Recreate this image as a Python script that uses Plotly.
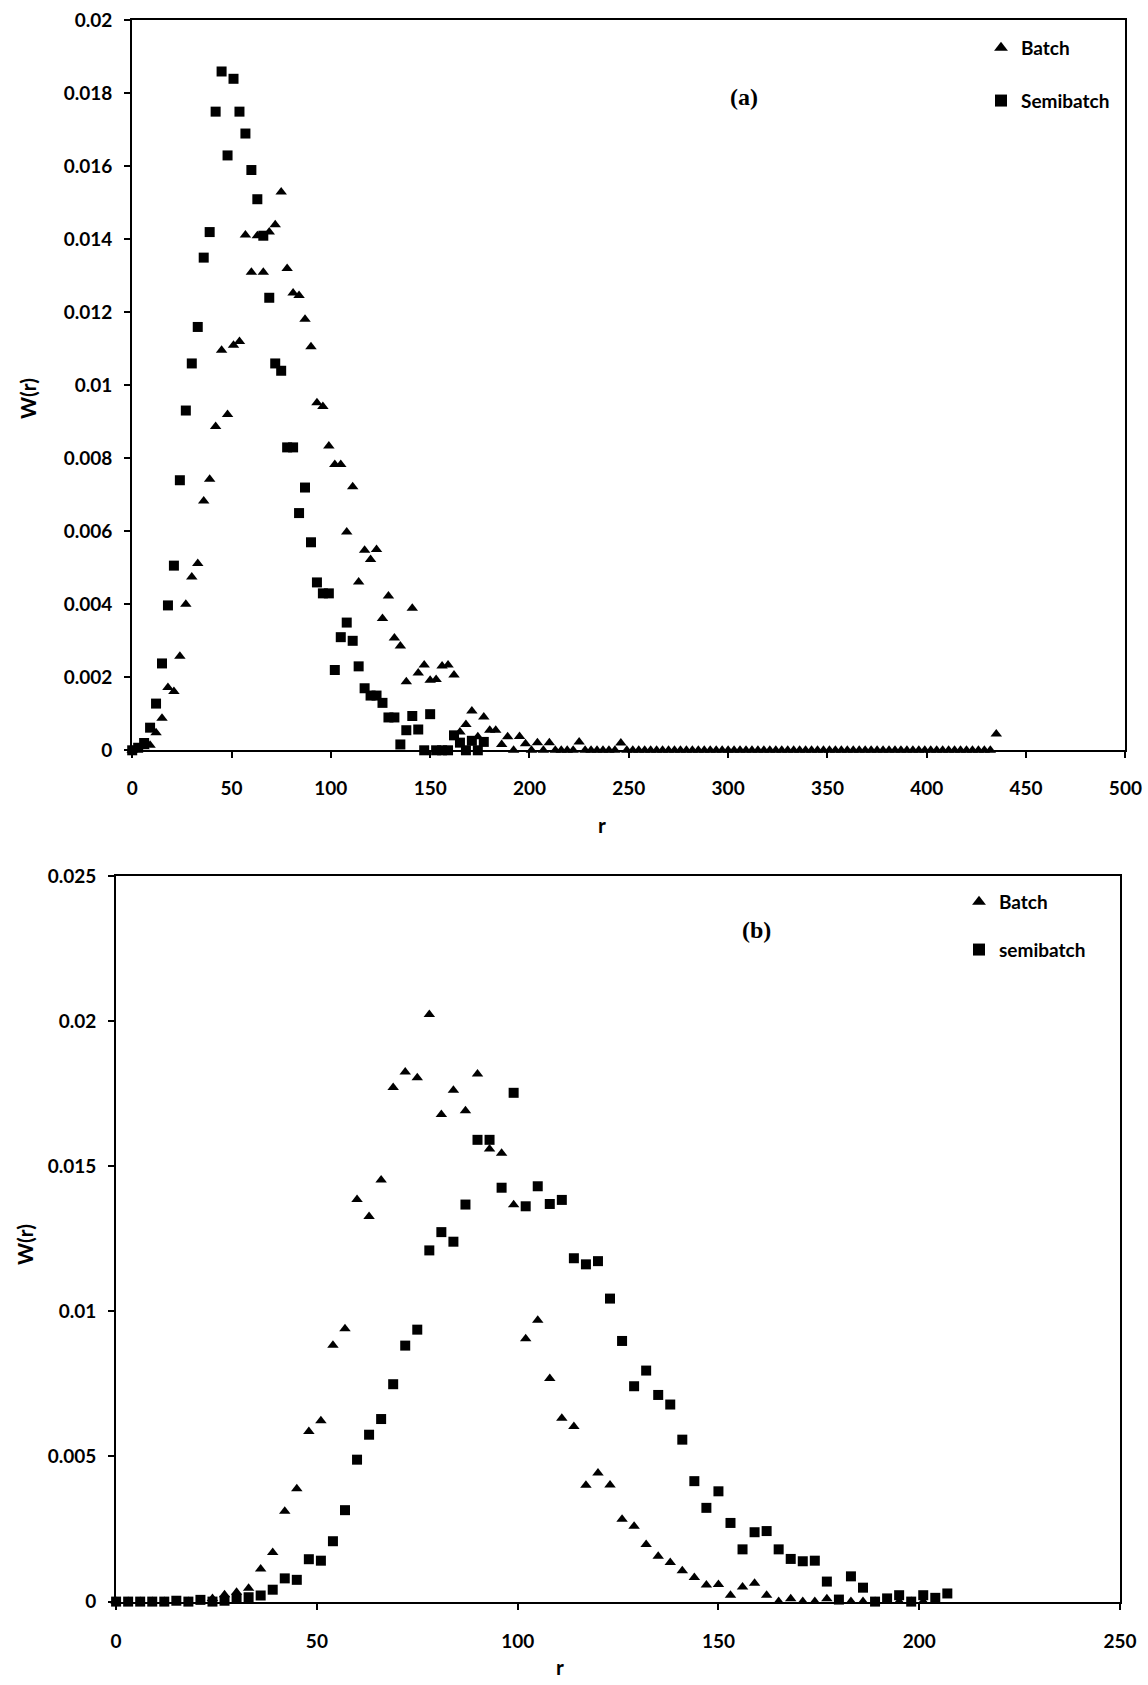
import plotly.graph_objects as go

# ---------------- panel (a) ----------------
r_batch_a = [
    0, 3, 6, 9, 12, 15, 18, 21, 24, 27, 30, 33, 36, 39, 42, 45, 48, 51, 54, 57,
    60, 63, 66, 69, 72, 75, 78, 81, 84, 87, 90, 93, 96, 99, 102, 105, 108, 111, 114, 117,
    120, 123, 126, 129, 132, 135, 138, 141, 144, 147, 150, 153, 156, 159, 162, 165, 168, 171, 174, 177,
    180, 183, 186, 189, 192, 195, 198, 201, 204, 207, 210, 213, 216, 219, 222, 225, 228, 231, 234, 237,
    240, 243, 246, 249, 252, 255, 258, 261, 264, 267, 270, 273, 276, 279, 282, 285, 288, 291, 294, 297,
    300, 303, 306, 309, 312, 315, 318, 321, 324, 327, 330, 333, 336, 339, 342, 345, 348, 351, 354, 357,
    360, 363, 366, 369, 372, 375, 378, 381, 384, 387, 390, 393, 396, 399, 402, 405, 408, 411, 414, 417,
    420, 423, 426, 429, 432, 435,
]
w_batch_a = [
    0.0, 0.00005, 0.0001, 0.00014, 0.00048, 0.00088, 0.00172, 0.00161, 0.00258, 0.0040,
    0.00475, 0.00512, 0.00683, 0.00743, 0.00887, 0.01096, 0.0092, 0.0111, 0.0112, 0.01412,
    0.0131, 0.0141, 0.0131, 0.0142, 0.0144, 0.0153, 0.0132, 0.01253, 0.01246, 0.01181,
    0.01106, 0.00952, 0.00942, 0.00834, 0.00783, 0.00783, 0.00598, 0.00722, 0.00461, 0.00548,
    0.00523, 0.0055, 0.00361, 0.00423, 0.00308, 0.00286, 0.00188, 0.00389, 0.00212, 0.00234,
    0.00192, 0.00194, 0.00231, 0.00234, 0.00206, 0.0005, 0.00071, 0.00108, 0.00037, 0.00091,
    0.00055, 0.00055, 0.00016, 0.00037, 0.0, 0.00038, 0.00018, 0.0, 0.00021, 0.0,
    0.00021, 0.0, 0.0, 0.0, 0.0, 0.00023, 0.0, 0.0, 0.0, 0.0,
    0.0, 0.0, 0.0002, 0.0, 0.0, 0.0, 0.0, 0.0, 0.0, 0.0,
    0.0, 0.0, 0.0, 0.0, 0.0, 0.0, 0.0, 0.0, 0.0, 0.0,
    0.0, 0.0, 0.0, 0.0, 0.0, 0.0, 0.0, 0.0, 0.0, 0.0,
    0.0, 0.0, 0.0, 0.0, 0.0, 0.0, 0.0, 0.0, 0.0, 0.0,
    0.0, 0.0, 0.0, 0.0, 0.0, 0.0, 0.0, 0.0, 0.0, 0.0,
    0.0, 0.0, 0.0, 0.0, 0.0, 0.0, 0.0, 0.0, 0.0, 0.0,
    0.0, 0.0, 0.0, 0.0, 0.0, 0.00045,
]

r_semi_a = [
    0, 3, 6, 9, 12, 15, 18, 21, 24, 27, 30, 33, 36, 39, 42, 45, 48, 51, 54, 57,
    60, 63, 66, 69, 72, 75, 78, 81, 84, 87, 90, 93, 96, 99, 102, 105, 108, 111, 114, 117,
    120, 123, 126, 129, 132, 135, 138, 141, 144, 147, 150, 153, 156, 159, 162, 165, 168, 171, 174, 177,
]
w_semi_a = [
    0.0, 0.00007, 0.0002, 0.00062, 0.00128, 0.00238, 0.00397, 0.00506, 0.0074, 0.00931,
    0.0106, 0.0116, 0.0135, 0.0142, 0.0175, 0.0186, 0.0163, 0.0184, 0.0175, 0.0169,
    0.0159, 0.0151, 0.0141, 0.0124, 0.0106, 0.0104, 0.0083, 0.0083, 0.0065, 0.0072,
    0.0057, 0.0046, 0.0043, 0.0043, 0.0022, 0.0031, 0.0035, 0.0030, 0.0023, 0.0017,
    0.0015, 0.0015, 0.0013, 0.0009, 0.0009, 0.00016, 0.00055, 0.00094, 0.00057, 0.0,
    0.00099, 0.0, 0.0, 0.0, 0.00041, 0.00021, 0.0, 0.00026, 0.0, 0.00023,
]

# ---------------- panel (b) ----------------
r_batch_b = [
    0, 3, 6, 9, 12, 15, 18, 21, 24, 27, 30, 33, 36, 39, 42, 45, 48, 51, 54, 57,
    60, 63, 66, 69, 72, 75, 78, 81, 84, 87, 90, 93, 96, 99, 102, 105, 108, 111, 114, 117,
    120, 123, 126, 129, 132, 135, 138, 141, 144, 147, 150, 153, 156, 159, 162, 165, 168, 171, 174, 177,
    180, 183, 186, 189, 192, 195, 198, 201,
]
w_batch_b = [
    0.0, 0.0, 0.0, 0.0, 0.0, 0.0, 0.0, 0.0, 0.00011, 0.00024,
    0.00032, 0.00046, 0.00112, 0.00169, 0.00311, 0.00389, 0.00586, 0.00623, 0.00883, 0.0094,
    0.01385, 0.01327, 0.01453, 0.01771, 0.01825, 0.01805, 0.02023, 0.01678, 0.01762, 0.01691,
    0.01818, 0.01559, 0.01545, 0.01367, 0.00906, 0.00969, 0.00769, 0.00632, 0.00603, 0.00401,
    0.00443, 0.00402, 0.00284, 0.0026, 0.00197, 0.00156, 0.00135, 0.00106, 0.00083, 0.00057,
    0.00059, 0.00022, 0.0005, 0.00063, 0.00022, 0.0, 0.0001, 0.0, 0.0, 0.0001,
    0.0, 0.0, 0.0, 0.0, 0.0, 0.0, 0.0, 0.0,
]

r_semi_b = [
    0, 3, 6, 9, 12, 15, 18, 21, 24, 27, 30, 33, 36, 39, 42, 45, 48, 51, 54, 57,
    60, 63, 66, 69, 72, 75, 78, 81, 84, 87, 90, 93, 96, 99, 102, 105, 108, 111, 114, 117,
    120, 123, 126, 129, 132, 135, 138, 141, 144, 147, 150, 153, 156, 159, 162, 165, 168, 171, 174, 177,
    180, 183, 186, 189, 192, 195, 198, 201, 204, 207,
]
w_semi_b = [
    0.0, 0.0, 0.0, 0.0, 0.0, 0.00003, 0.0, 0.00006, 0.0, 0.00003,
    0.0001, 0.00015, 0.00021, 0.00041, 0.0008, 0.00075, 0.00146, 0.00141, 0.00208, 0.00315,
    0.00489, 0.00575, 0.00629, 0.00749, 0.00882, 0.00937, 0.0121, 0.01273, 0.0124, 0.01368,
    0.01591, 0.01591, 0.01426, 0.01753, 0.01362, 0.01431, 0.0137, 0.01384, 0.01183, 0.01162,
    0.01173, 0.01044, 0.00898, 0.00742, 0.00796, 0.00712, 0.00679, 0.00558, 0.00415, 0.00323,
    0.0038, 0.00271, 0.0018, 0.00239, 0.00243, 0.0018, 0.00147, 0.00139, 0.00141, 0.00069,
    0.00007, 0.00087, 0.00048, 0.0, 0.00011, 0.00022, 0.0, 0.00022, 0.00013, 0.00028,
]

# axis ticks
xticks_a = [0, 50, 100, 150, 200, 250, 300, 350, 400, 450, 500]
yticks_a = [0, 0.002, 0.004, 0.006, 0.008, 0.01, 0.012, 0.014, 0.016, 0.018, 0.02]
ytext_a = ["0", "0.002", "0.004", "0.006", "0.008", "0.01", "0.012", "0.014", "0.016", "0.018", "0.02"]
xticks_b = [0, 50, 100, 150, 200, 250]
yticks_b = [0, 0.005, 0.01, 0.015, 0.02, 0.025]
ytext_b = ["0", "0.005", "0.01", "0.015", "0.02", "0.025"]

W, H = 1148, 1685
FONT = "Lato"
TRI = dict(symbol="triangle-up", size=10, color="black")
SQR = dict(symbol="square", size=10, color="black")

fig = go.Figure()
fig.add_trace(go.Scatter(x=r_batch_a, y=w_batch_a, mode="markers", name="Batch",
                         marker=TRI, xaxis="x", yaxis="y", legend="legend",
                         legendgroup="a1", cliponaxis=False))
fig.add_trace(go.Scatter(x=r_semi_a, y=w_semi_a, mode="markers", name="Semibatch",
                         marker=SQR, xaxis="x", yaxis="y", legend="legend",
                         legendgroup="a2", cliponaxis=False))
fig.add_trace(go.Scatter(x=r_batch_b, y=w_batch_b, mode="markers", name="Batch",
                         marker=TRI, xaxis="x2", yaxis="y2", legend="legend2",
                         legendgroup="b1", cliponaxis=False))
fig.add_trace(go.Scatter(x=r_semi_b, y=w_semi_b, mode="markers", name="semibatch",
                         marker=SQR, xaxis="x2", yaxis="y2", legend="legend2",
                         legendgroup="b2", cliponaxis=False))

tickfont = dict(family=FONT, size=19, color="black", weight="bold")
common = dict(showgrid=False, zeroline=False, showline=True, linecolor="black",
              linewidth=2, mirror=True, ticks="outside", ticklen=6, tickwidth=1.5,
              tickcolor="black", tickfont=tickfont, automargin=False)

# pixel -> paper helpers for layout placement
px = lambda v: v / W
py = lambda v: 1 - v / H

legend_font = dict(family=FONT, size=19, color="black", weight="bold")

fig.update_layout(
    width=W, height=H,
    margin=dict(l=0, r=0, t=0, b=0, autoexpand=False),
    paper_bgcolor="white", plot_bgcolor="white",
    xaxis=dict(domain=[px(132.2), px(1125.4)], range=[0, 500], anchor="y",
               tickmode="array", tickvals=xticks_a, ticklabelstandoff=14, **common),
    yaxis=dict(domain=[py(750.3), py(20.4)], range=[0, 0.02], anchor="x",
               tickmode="array", tickvals=yticks_a, ticktext=ytext_a,
               ticklabelstandoff=8, **common),
    xaxis2=dict(domain=[px(116.1), px(1120)], range=[0, 250], anchor="y2",
                tickmode="array", tickvals=xticks_b, ticklabelstandoff=16, **common),
    yaxis2=dict(domain=[py(1601.6), py(876)], range=[0, 0.025], anchor="x2",
                tickmode="array", tickvals=yticks_b, ticktext=ytext_b,
                ticklabelstandoff=8, **common),
    legend=dict(x=px(981), y=py(29), xanchor="left", yanchor="top",
                font=legend_font, bgcolor="rgba(0,0,0,0)",
                tracegroupgap=25, itemsizing="constant"),
    legend2=dict(x=px(959), y=py(883), xanchor="left", yanchor="top",
                 font=legend_font, bgcolor="rgba(0,0,0,0)",
                 tracegroupgap=20, itemsizing="constant"),
    showlegend=True,
)

title_font = dict(family=FONT, size=21, color="black", weight="bold")
serif_font = dict(family="Liberation Serif", size=24, color="black", weight="bold")
annotations = [
    dict(text="(a)", x=px(744), y=py(97), font=serif_font),
    dict(text="(b)", x=px(756), y=py(930), font=serif_font),
    dict(text="r", x=px(602), y=py(825), font=title_font),
    dict(text="r", x=px(560), y=py(1666), font=title_font),
    dict(text="W(r)", x=px(28), y=py(399), font=title_font, textangle=-90),
    dict(text="W(r)", x=px(24), y=py(1245), font=title_font, textangle=-90),
]
for a in annotations:
    a.update(xref="paper", yref="paper", showarrow=False, xanchor="center", yanchor="middle")
fig.update_layout(annotations=annotations)

fig.write_html("out.html")
